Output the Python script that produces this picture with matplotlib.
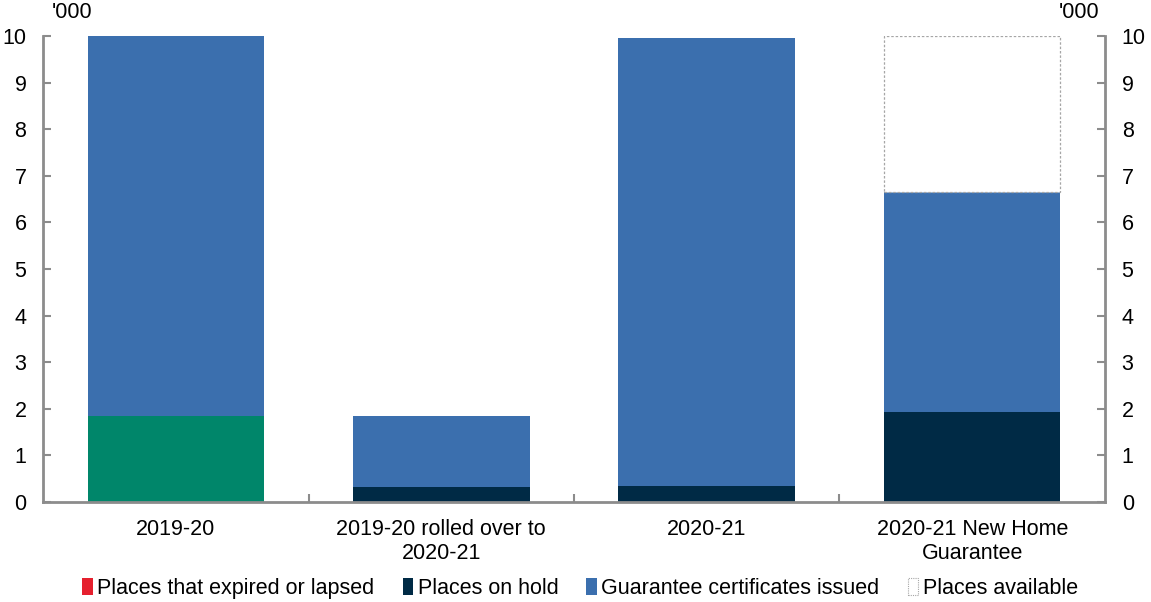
import matplotlib
matplotlib.use("Agg")
import matplotlib.pyplot as plt
from matplotlib.patches import Patch
import numpy as np

plt.rcParams["font.family"] = ["Liberation Sans", "DejaVu Sans"]

categories = ["2019-20", "2019-20 rolled over to\n2020-21", "2020-21",
              "2020-21 New Home\nGuarantee"]
rolled_over = [1.85, 0.0, 0.0, 0.0]
expired = [0.0, 0.0, 0.0, 0.0]
on_hold = [0.0, 0.33, 0.35, 1.93]
certificates = [8.15, 1.52, 9.62, 4.72]
available = [0.0, 0.0, 0.0, 3.35]
y_ticks = list(range(0, 11))

c_green = "#00866a"
c_red = "#e5202e"
c_navy = "#002a45"
c_blue = "#3b6fae"
c_axis = "#8c8c8c"
fs = 15.5

fig = plt.figure(figsize=(11.51, 6.02), dpi=100)
ax = fig.add_axes([0.0374, 0.166, 0.9226, 0.774])

x = np.arange(len(categories))
w = 0.665


def stack(values, bottom, **kw):
    vals = np.asarray(values, dtype=float)
    keep = vals > 0
    if keep.any():
        ax.bar(x[keep], vals[keep], w, bottom=bottom[keep], **kw)
    return bottom + vals


base = np.zeros(len(categories))
base = stack(rolled_over, base, color=c_green, linewidth=0)
base = stack(expired, base, color=c_red, linewidth=0)
base = stack(on_hold, base, color=c_navy, linewidth=0)
base = stack(certificates, base, color=c_blue, linewidth=0)
base = stack(available, base, facecolor="white", edgecolor="#a6a6a6",
             linestyle=(0, (2, 1.5)), linewidth=0.9)

ax.set_xlim(-0.5, len(categories) - 0.5)
ax.set_ylim(0, 10)
ax.set_yticks(y_ticks)
ax.tick_params(axis="y", which="both", direction="in", length=6, width=1.5,
               color=c_axis, labelsize=fs, left=True, right=True,
               labelleft=True, labelright=True, pad=12)
ax.set_xticks(x)
ax.set_xticklabels(categories, fontsize=fs)
ax.set_xticks(np.arange(0.5, len(categories) - 0.5), minor=True)
ax.tick_params(axis="x", which="major", length=0, pad=12)
ax.tick_params(axis="x", which="minor", direction="in", length=6, width=1.5,
               color=c_axis)
ax.spines["top"].set_visible(False)
for s in ["left", "right", "bottom"]:
    ax.spines[s].set_color(c_axis)
    ax.spines[s].set_linewidth(2)

fig.text(0.045, 0.962, "'000", fontsize=fs, ha="left", va="bottom")
fig.text(0.955, 0.962, "'000", fontsize=fs, ha="right", va="bottom")

handles = [
    Patch(facecolor=c_red, edgecolor="none"),
    Patch(facecolor=c_navy, edgecolor="none"),
    Patch(facecolor=c_blue, edgecolor="none"),
    Patch(facecolor="white", edgecolor="#a6a6a6", linestyle=(0, (1, 1)),
          linewidth=0.8),
]
labels = ["Places that expired or lapsed", "Places on hold",
          "Guarantee certificates issued", "Places available"]
fig.legend(handles, labels, loc="lower center", bbox_to_anchor=(0.504, -0.027),
           ncol=4, frameon=False, fontsize=fs, handlelength=0.5,
           handleheight=0.8, handletextpad=0.2, columnspacing=1.3)

fig.savefig("out.png", dpi=100)
